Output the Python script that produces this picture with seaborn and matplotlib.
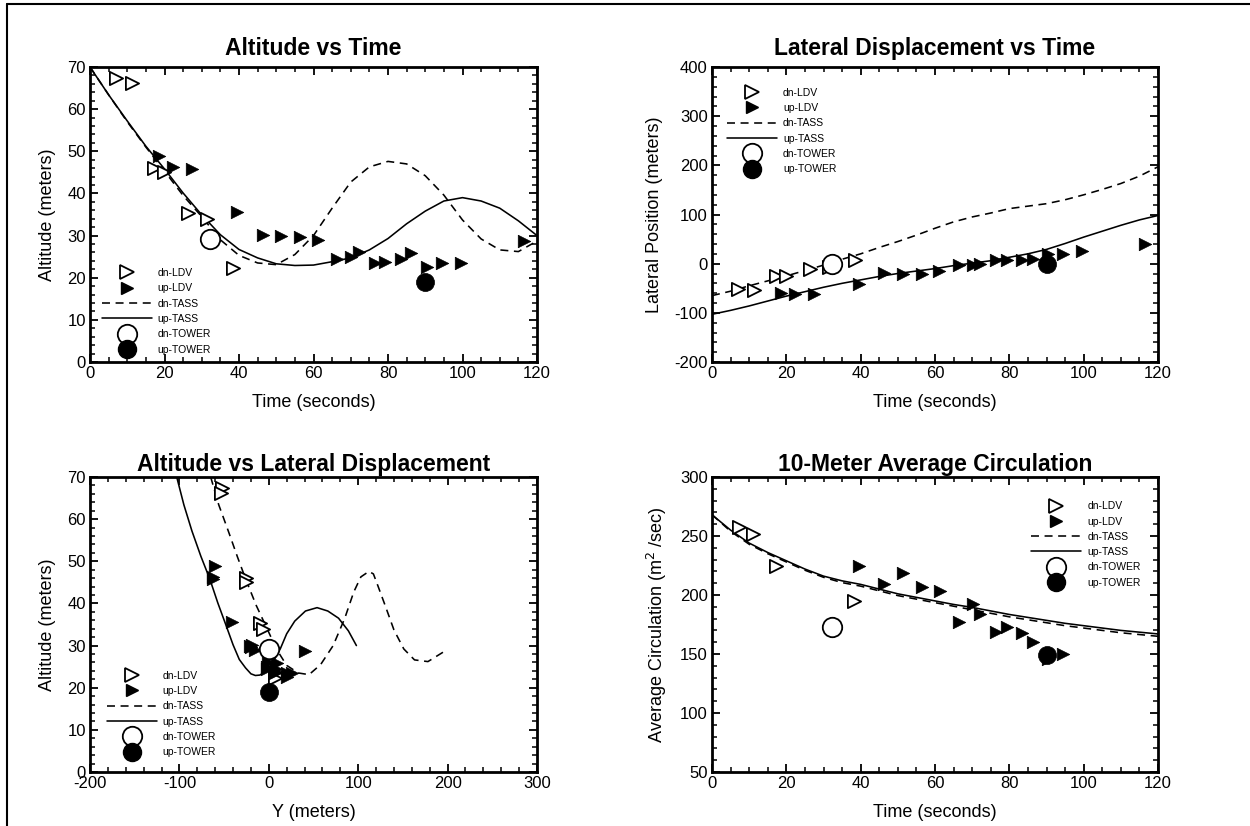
import matplotlib
matplotlib.use("Agg")
import matplotlib.pyplot as plt
import seaborn as sns
import pandas as pd
from matplotlib.lines import Line2D
from matplotlib.ticker import MultipleLocator

# ---------------- data ----------------
# TASS model curves (time in s)
tass_t = [0, 5, 10, 15, 20, 25, 30, 35, 40, 45, 50, 55, 60, 65, 70, 75, 80, 85, 90, 95, 100, 105, 110, 115, 120]
up_tass_alt = [70, 63.4, 57.2, 51.2, 45.8, 40.1, 34.9, 30.2, 26.7, 24.7, 23.3, 22.9, 23.0, 23.8, 24.7, 26.6,
               29.3, 32.8, 35.8, 38.2, 39.0, 38.2, 36.5, 33.5, 30.0]
dn_tass_alt = [70, 63.4, 57.0, 51.0, 45.3, 39.5, 34.5, 29.0, 25.3, 23.5, 23.1, 25.5, 30.0, 36.5, 42.7, 46.3,
               47.6, 47.0, 44.2, 39.6, 33.7, 29.2, 26.6, 26.2, 28.7]
up_tass_lat = [-103, -95, -86, -76, -66, -57, -48, -40, -33, -26, -20, -15, -10, -4, 1, 6, 13, 20, 29, 41,
               54, 66, 78, 89, 98]
dn_tass_lat = [-65, -56, -45, -35, -25, -14, -3, 9, 20, 33, 45, 58, 72, 85, 95, 103, 112, 117, 122, 130,
               140, 151, 163, 178, 197]
up_tass_circ = [268, 255, 244, 236, 229, 222, 216, 212, 209, 205, 201, 198, 195, 192, 189.5, 186.5, 183.5,
                181, 178.5, 176, 174, 172, 170, 168.5, 167]
dn_tass_circ = [268, 254, 243, 235, 228, 221, 215, 210.5, 207.5, 203.5, 199.5, 196.5, 193.5, 190.5, 187.5,
                184.5, 181.5, 179, 176.5, 174, 172, 170, 168, 166.5, 165]

# LDV measurements
dn_ldv_t = [7.0, 11.3, 17.3, 19.9, 26.4, 31.5, 38.4]
dn_ldv_alt = [67.3, 66.2, 46.0, 45.2, 35.4, 34.0, 22.4]
dn_ldv_lat = [-52, -54, -26, -25, -10, -7, 7]

up_ldv_t = [18.5, 22.3, 27.4, 39.5, 46.4, 51.4, 56.4, 61.2, 66.4, 70.2, 72.2, 76.5, 79.3, 83.4, 86.3,
            90.5, 94.5, 99.5, 116.6]
up_ldv_alt = [48.8, 46.3, 45.9, 35.6, 30.1, 29.8, 29.6, 29.0, 24.4, 25.0, 26.0, 23.5, 23.7, 24.5, 25.9,
              22.6, 23.4, 23.4, 28.6]
up_ldv_lat = [-60, -62, -62, -41, -19, -21, -20, -15, -2, -2, -1, 7, 8, 8, 9, 20, 20, 26, 41]

# circulation LDV measurements
dn_circ_t = [7.2, 10.9, 17.3, 38.3]
dn_circ = [257.5, 251.5, 225.0, 195.0]
up_circ_t = [39.5, 46.3, 51.4, 56.4, 61.4, 66.5, 70.3, 72.2, 76.5, 79.4, 83.4, 86.5, 90.4, 94.5]
up_circ = [225, 209, 219, 207, 203, 177, 192, 184, 169, 172.5, 168, 160, 146, 150]

# tower measurements
dn_tower_t = [32.2]
dn_tower_alt = [29.1]
dn_tower_lat = [0]
dn_tower_circ = [173]
up_tower_t = [90.0]
up_tower_alt = [18.9]
up_tower_lat = [0]
up_tower_circ = [149]

legend_labels = ["dn-LDV", "up-LDV", "dn-TASS", "up-TASS", "dn-TOWER", "up-TOWER"]

# ---------------- style ----------------
sns.set_theme(style="ticks")
plt.rcParams["font.family"] = ["Liberation Sans", "DejaVu Sans"]
plt.rcParams.update({
    "xtick.direction": "in", "ytick.direction": "in",
    "xtick.top": True, "ytick.right": True,
    "xtick.minor.visible": True, "ytick.minor.visible": True,
    "axes.linewidth": 2.0,
    "axes.unicode_minus": False,
    "text.color": "black", "axes.labelcolor": "black",
    "xtick.color": "black", "ytick.color": "black",
})

W, H = 1250, 826
fig = plt.figure(figsize=(W / 100, H / 100), dpi=100)
fig.patch.set_facecolor("white")


def add_ax(x0, y0, x1, y1):
    return fig.add_axes([x0 / W, 1 - y1 / H, (x1 - x0) / W, (y1 - y0) / H])


ax1 = add_ax(90, 67, 537, 362)
ax2 = add_ax(712, 67, 1158, 362)
ax3 = add_ax(90, 477, 537, 772)
ax4 = add_ax(712, 477, 1158, 772)

DASH = (0, (5, 3.5))
LW = 1.15
TRI_MS = 9.5
CIR_MS = 14


def curves(ax, x_up, y_up, x_dn, y_dn, sort=True):
    sns.lineplot(x=x_dn, y=y_dn, ax=ax, color="black", linewidth=LW, linestyle=DASH,
                 sort=sort, estimator=None, zorder=2)
    sns.lineplot(x=x_up, y=y_up, ax=ax, color="black", linewidth=LW,
                 sort=sort, estimator=None, zorder=2)


def points(ax, dx, dy, ux, uy, tdx, tdy, tux, tuy):
    sns.scatterplot(x=dx, y=dy, ax=ax, marker=">", s=TRI_MS ** 2, color="white",
                    edgecolor="black", linewidth=1.3, zorder=3, clip_on=False)
    sns.scatterplot(x=ux, y=uy, ax=ax, marker=">", s=(TRI_MS - 0.5) ** 2, color="black",
                    edgecolor="black", linewidth=0.5, zorder=3, clip_on=False)
    sns.scatterplot(x=tdx, y=tdy, ax=ax, marker="o", s=CIR_MS ** 2, color="white",
                    edgecolor="black", linewidth=1.3, zorder=4)
    sns.scatterplot(x=tux, y=tuy, ax=ax, marker="o", s=(CIR_MS - 1) ** 2, color="black",
                    edgecolor="black", linewidth=0.5, zorder=4)


def handles():
    return [
        Line2D([], [], ls="none", marker=">", ms=TRI_MS, mfc="white", mec="black", mew=1.3),
        Line2D([], [], ls="none", marker=">", ms=TRI_MS - 0.5, mfc="black", mec="black"),
        Line2D([], [], color="black", lw=LW, ls=DASH),
        Line2D([], [], color="black", lw=LW),
        Line2D([], [], ls="none", marker="o", ms=CIR_MS, mfc="white", mec="black", mew=1.3),
        Line2D([], [], ls="none", marker="o", ms=CIR_MS - 1, mfc="black", mec="black"),
    ]


def legend(ax, loc, anchor):
    ax.legend(handles(), legend_labels, loc=loc, bbox_to_anchor=anchor, frameon=False,
              fontsize=7.5, handlelength=4.8, handletextpad=0.6, labelspacing=0.51,
              borderpad=0, borderaxespad=0)


def style(ax, title, xlabel, ylabel, xlim, ylim, xmaj, xmin, ymaj, ymin, pad):
    ax.set_xlim(*xlim)
    ax.set_ylim(*ylim)
    ax.xaxis.set_major_locator(MultipleLocator(xmaj))
    ax.xaxis.set_minor_locator(MultipleLocator(xmin))
    ax.yaxis.set_major_locator(MultipleLocator(ymaj))
    ax.yaxis.set_minor_locator(MultipleLocator(ymin))
    ax.tick_params(which="major", length=6, width=1.3, labelsize=12, pad=3)
    ax.tick_params(which="minor", length=3.6, width=1.1)
    ax.set_title(title, fontsize=16.5, fontweight="bold", pad=pad)
    ax.set_xlabel(xlabel, fontsize=13, labelpad=9)
    ax.set_ylabel(ylabel, fontsize=13, labelpad=8)
    for sp in ax.spines.values():
        sp.set_linewidth(2.0)
        sp.set_color("black")
    ax.set_facecolor("white")


# Panel 1: Altitude vs Time
curves(ax1, tass_t, up_tass_alt, tass_t, dn_tass_alt)
points(ax1, dn_ldv_t, dn_ldv_alt, up_ldv_t, up_ldv_alt, dn_tower_t, dn_tower_alt, up_tower_t, up_tower_alt)
style(ax1, "Altitude vs Time", "Time (seconds)", "Altitude (meters)", (0, 120), (0, 70), 20, 5, 10, 2, 9)
legend(ax1, "lower left", (0.026, 0.025))

# Panel 2: Lateral Displacement vs Time
curves(ax2, tass_t, up_tass_lat, tass_t, dn_tass_lat)
points(ax2, dn_ldv_t, dn_ldv_lat, up_ldv_t, up_ldv_lat, dn_tower_t, dn_tower_lat, up_tower_t, up_tower_lat)
style(ax2, "Lateral Displacement vs Time", "Time (seconds)", "Lateral Position (meters)",
      (0, 120), (-200, 400), 20, 5, 100, 20, 9)
legend(ax2, "upper left", (0.033, 0.93))

# Panel 3: Altitude vs Lateral Displacement
curves(ax3, up_tass_lat, up_tass_alt, dn_tass_lat, dn_tass_alt, sort=False)
points(ax3, dn_ldv_lat, dn_ldv_alt, up_ldv_lat, up_ldv_alt, dn_tower_lat, dn_tower_alt, up_tower_lat, up_tower_alt)
style(ax3, "Altitude vs Lateral Displacement", "Y (meters)", "Altitude (meters)",
      (-200, 300), (0, 70), 100, 20, 10, 2, 4)
legend(ax3, "lower left", (0.037, 0.05))

# Panel 4: 10-Meter Average Circulation
curves(ax4, tass_t, up_tass_circ, tass_t, dn_tass_circ)
points(ax4, dn_circ_t, dn_circ, up_circ_t, up_circ, dn_tower_t, dn_tower_circ, up_tower_t, up_tower_circ)
style(ax4, "10-Meter Average Circulation", "Time (seconds)", "Average Circulation (m$^2$ /sec)",
      (0, 120), (50, 300), 20, 5, 50, 10, 4)
legend(ax4, "upper left", (0.716, 0.918))

# outer frame lines (top and left)
fig.add_artist(Line2D([7 / W, 7 / W], [0, 1 - 4 / H], transform=fig.transFigure, color="black", lw=1.5))
fig.add_artist(Line2D([7 / W, 1], [1 - 4 / H, 1 - 4 / H], transform=fig.transFigure, color="black", lw=1.5))

fig.savefig("out.png", dpi=100, facecolor="white")
